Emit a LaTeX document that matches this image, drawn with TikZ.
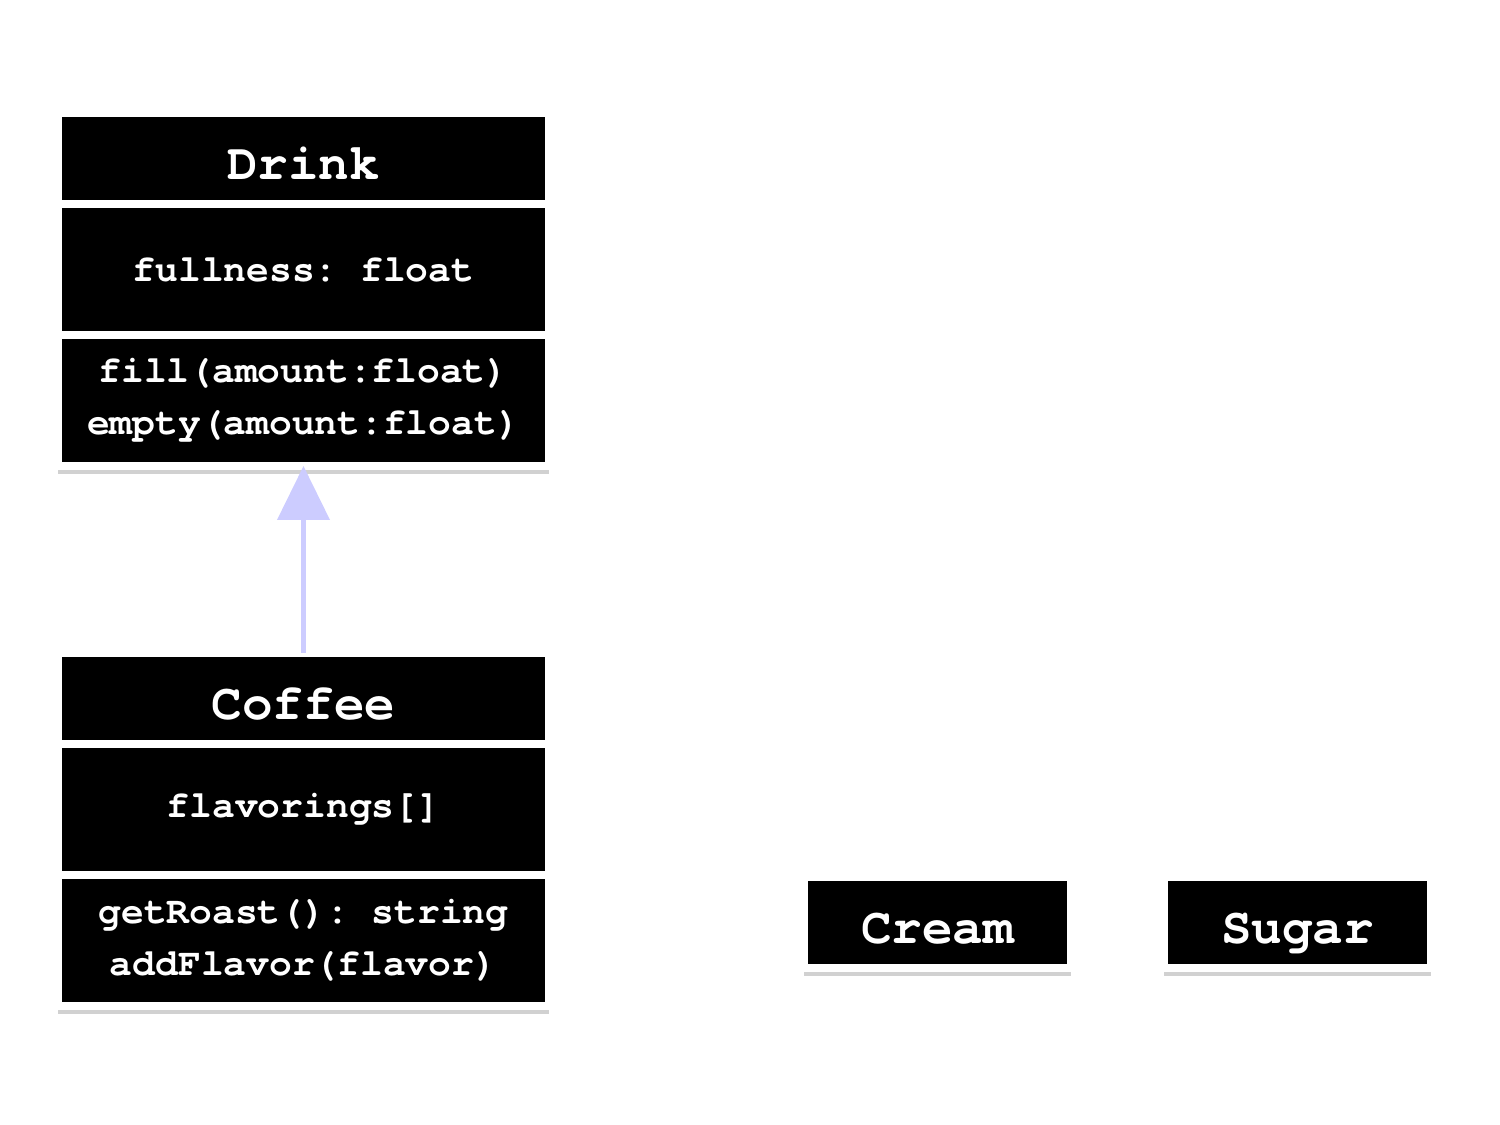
\documentclass[tikz,border=0pt]{standalone}
\usepackage{fontspec}
\setmonofont[Ligatures=NoCommon]{TeX Gyre Cursor}
\usetikzlibrary{positioning,shadows,arrows.meta}

\definecolor{inherit}{RGB}{204,204,255}

\tikzset{
  umlbox/.style={rectangle, fill=black, draw=white, line width=0.08cm, outer sep=0pt,
    text=white, font=\ttfamily\bfseries\fontsize{10.8}{14.8}\selectfont, align=center,
    minimum width=4.91cm, inner sep=0pt,
    drop shadow={shadow xshift=0pt, shadow yshift=-2.2pt, fill=black!40, opacity=0.45}},
  umltitle/.style={umlbox, minimum height=0.91cm, text height=1.2em, text depth=0.02em,
    font=\ttfamily\bfseries\fontsize{14.5}{17}\selectfont},
  umlpart/.style={umlbox, minimum height=1.31cm},
  extrabox/.style={umltitle, minimum width=2.67cm}
}

\begin{document}
\begin{tikzpicture}
    \useasboundingbox (0,0) rectangle (15,11.25);

    % Drink
    \node[umltitle] (drink) at (3.035,9.665) {Drink};
    \node[umlpart, below=0pt of drink] (drinkattr) {fullness: float};
    \node[umlpart, below=0pt of drinkattr] (drinkops) {fill(amount:float)\\empty(amount:float)};

    % Coffee
    \node[umltitle] (coffee) at (3.035,4.265) {Coffee};
    \node[umlpart, below=0pt of coffee] (coffeeattr) {flavorings[]};
    \node[umlpart, below=0pt of coffeeattr] (coffeeops) {getRoast(): string\\addFlavor(flavor)};

    % extras
    \node[extrabox] (cream) at (9.375,2.025) {Cream};
    \node[extrabox] (sugar) at (12.975,2.025) {Sugar};

    \draw[-{Triangle[width=5.2mm,length=5.4mm]}, inherit, line width=1.2pt](coffee.north)--(drinkops.south);
\end{tikzpicture}
\end{document}
